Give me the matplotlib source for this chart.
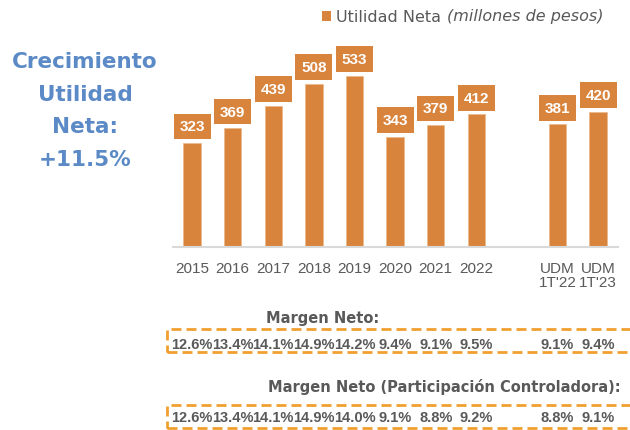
import numpy as np
import matplotlib.pyplot as plt
from matplotlib.patches import Rectangle
from matplotlib.transforms import blended_transform_factory

categorias = ['2015', '2016', '2017', '2018', '2019', '2020', '2021', '2022',
              "UDM\n1T'22", "UDM\n1T'23"]
utilidad = [323, 369, 439, 508, 533, 343, 379, 412, 381, 420]
margen = [12.6, 13.4, 14.1, 14.9, 14.2, 9.4, 9.1, 9.5, 9.1, 9.4]
margen_ctrl = [12.6, 13.4, 14.1, 14.9, 14.0, 9.1, 8.8, 9.2, 8.8, 9.1]

naranja = '#D9843D'
gris = '#595959'
azul = '#5B8AC6'
amarillo = '#F0A030'

# los dos UDM van separados del resto por un hueco
x = np.array(list(range(8)) + [9, 10])

W, H = 630, 431
fig = plt.figure(figsize=(W / 100, H / 100), dpi=100)
ax = fig.add_axes([173 / W, 183 / H, 445 / W, 193 / H])

ax.bar(x, utilidad, width=0.43, color=naranja, edgecolor='#EBB98C', linewidth=0.6)
for xi, v in zip(x, utilidad):
    ax.annotate(str(v), (xi, v), xytext=(0, 12), textcoords='offset points',
                ha='center', va='center', color='white', fontsize=11,
                fontweight='bold', family='Liberation Sans',
                bbox=dict(boxstyle='square,pad=0.38', fc=naranja, ec='none'))

ax.set_xlim(-0.47, 10.49)
ax.set_ylim(0, 600)
ax.set_xticks(x)
ax.set_xticklabels(categorias, color=gris, fontsize=11, family='Liberation Sans',
                   linespacing=1.0)
ax.tick_params(axis='x', length=0, pad=10)
ax.set_yticks([])
for s in ['top', 'right', 'left']:
    ax.spines[s].set_visible(False)
ax.spines['bottom'].set_color('#D9D9D9')
ax.spines['bottom'].set_linewidth(1.5)

# leyenda
fig.patches.append(Rectangle((322 / W, 1 - 22 / H), 9 / W, 10 / H,
                             transform=fig.transFigure, fc=naranja, ec='none'))
fig.text(336 / W, 1 - 17 / H, 'Utilidad Neta', color=gris, fontsize=11.5, va='center')
fig.text(447 / W, 1 - 17 / H, '(millones de pesos)', color=gris, fontsize=11.5,
         style='italic', va='center')

# texto lateral
for txt, yy in zip(['Crecimiento', 'Utilidad', 'Neta:', '+11.5%'], [62, 95, 127, 160]):
    fig.text(85 / W, 1 - yy / H, txt, color=azul, fontsize=15.5, fontweight='bold',
             ha='center', va='center')

# tablas de margen
tr = blended_transform_factory(ax.transData, fig.transFigure)
fig.text(323 / W, 1 - 318 / H, 'Margen Neto:', color=gris, fontsize=10.5,
         fontweight='bold', ha='center', va='center')
fig.text(444 / W, 1 - 387 / H, 'Margen Neto (Participación Controladora):', color=gris,
         fontsize=10.5, fontweight='bold', ha='center', va='center')

for vals, yc, y0, y1 in [(margen, 345, 330, 353), (margen_ctrl, 418, 406, 429)]:
    fig.patches.append(Rectangle((167 / W, 1 - y1 / H), 500 / W, (y1 - y0) / H,
                                 transform=fig.transFigure, fill=False, ec=amarillo,
                                 lw=2, ls=(0, (3.6, 1.8))))
    for xi, v in zip(x, vals):
        ax.text(xi, 1 - yc / H, f'{v:.1f}%', transform=tr, ha='center', va='center',
                color=gris, fontsize=10.5, fontweight='bold', family='Liberation Sans')

fig.savefig('out.png', dpi=100)
